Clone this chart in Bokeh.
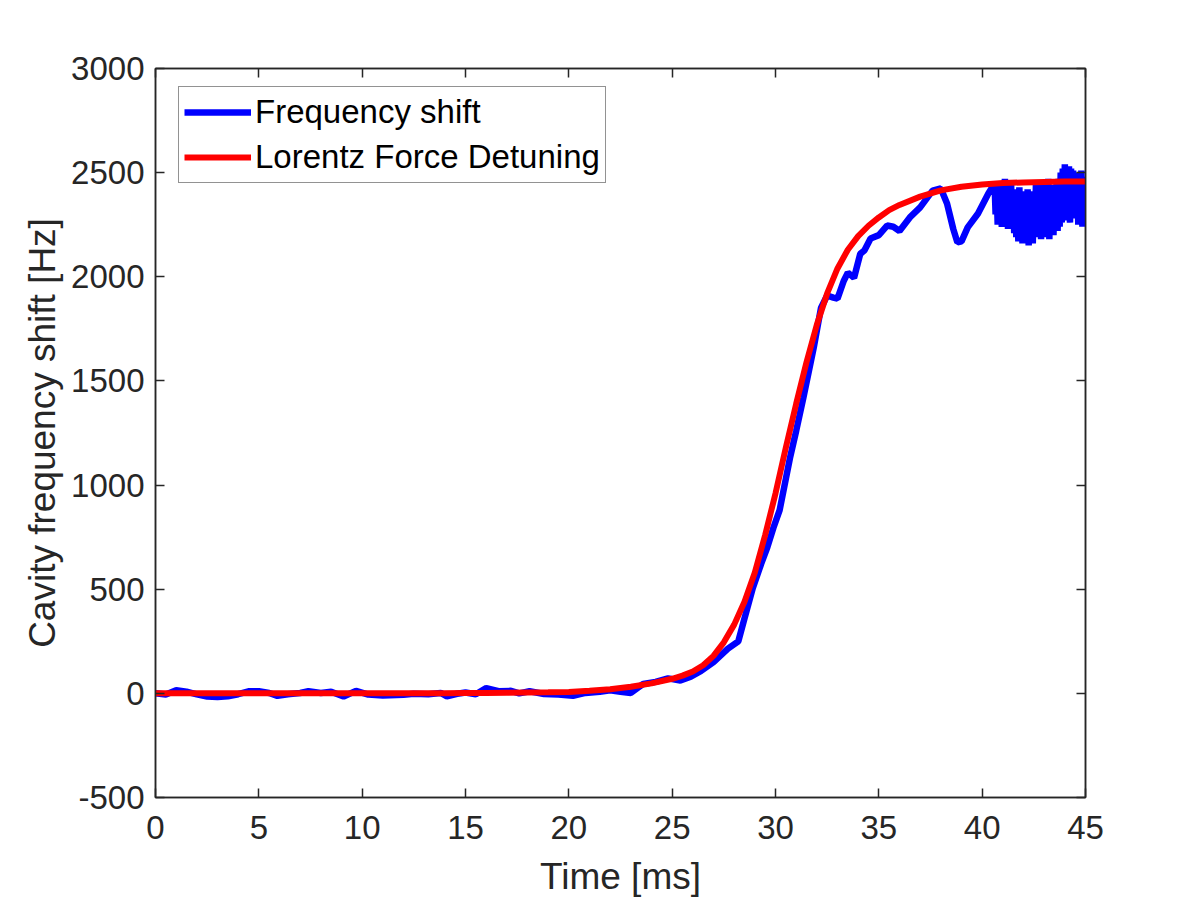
from bokeh.plotting import figure
from bokeh.models import Range1d, FixedTicker, LinearAxis, CustomJSTickFormatter, Legend, LegendItem
from bokeh.embed import file_html
from bokeh.resources import INLINE

# ---------------- data ----------------
blue_t = [0, 0.5, 1.0, 1.5, 2.0, 2.5, 3.0, 3.5, 4.0, 4.5, 5.0, 5.5, 5.9, 6.4, 7.0, 7.4, 8.0, 8.5,
          9.1, 9.7, 10.3, 11.0, 12.0, 12.5, 13.2, 13.8, 14.1, 14.6, 15.0, 15.5, 16.0, 16.6, 17.2,
          17.6, 18.1, 18.8, 19.5, 20.2, 20.8, 21.5, 22.0, 22.5, 23.0, 23.6, 24.2, 24.8, 25.4, 25.9,
          26.4, 27.0, 27.7, 28.2, 28.5, 28.9, 29.3, 29.6, 29.9, 30.2, 30.5, 30.7, 31.0, 31.35, 31.6,
          31.85, 32.2, 32.5, 32.8, 33.0, 33.3, 33.5, 33.8, 34.1, 34.3, 34.6, 35.0, 35.4, 35.7, 36.0,
          36.5, 37.0, 37.6, 38.0, 38.3, 38.6, 38.8, 39.0, 39.3, 39.8, 40.3, 40.6,
          40.65, 40.70, 40.75, 40.80, 40.85, 40.90, 40.95, 41.00, 41.05, 41.10, 41.15, 41.20,
          41.25, 41.30, 41.35, 41.40, 41.45, 41.50, 41.55, 41.60, 41.65, 41.70, 41.75, 41.80,
          41.85, 41.90, 41.95, 42.00, 42.05, 42.10, 42.15, 42.20, 42.25, 42.30, 42.35, 42.40,
          42.45, 42.50, 42.55, 42.60, 42.65, 42.70, 42.75, 42.80, 42.85, 42.90, 42.95, 43.00,
          43.05, 43.10, 43.15, 43.20, 43.25, 43.30, 43.35, 43.40, 43.45, 43.50, 43.55, 43.60,
          43.65, 43.70, 43.75, 43.80, 43.85, 43.90, 43.95, 44.00, 44.05, 44.10, 44.15, 44.20,
          44.25, 44.30, 44.35, 44.40, 44.45, 44.50, 44.55, 44.60, 44.65, 44.70, 44.75, 44.80,
          44.85, 44.90, 44.95, 45.00]
blue_v = [0, -5, 15, 8, -5, -15, -18, -14, -4, 10, 10, 2, -12, -4, 2, 10, 2, 8,
          -15, 12, -6, -10, -7, -2, -4, 2, -14, -2, 4, -4, 25, 10, 12,
          0, 10, -3, -5, -12, 2, 8, 15, 8, 2, 45, 55, 72, 62, 80,
          108, 150, 215, 250, 360, 505, 620, 700, 795, 880, 1030, 1130, 1260, 1420, 1540,
          1660, 1850, 1910, 1900, 1895, 1980, 2020, 1995, 2110, 2126, 2184, 2200, 2246, 2240, 2220,
          2285, 2333, 2414, 2424, 2352, 2230, 2165, 2170, 2237, 2304, 2400, 2448,
          2300, 2440, 2250, 2460, 2270, 2430, 2240, 2450, 2290, 2470, 2250, 2440,
          2230, 2420, 2260, 2450, 2230, 2400, 2210, 2420, 2190, 2400, 2170, 2430,
          2200, 2380, 2160, 2410, 2190, 2370, 2170, 2420, 2150, 2390, 2180, 2410,
          2160, 2380, 2200, 2440, 2190, 2450, 2210, 2430, 2180, 2460, 2200, 2420,
          2190, 2450, 2220, 2470, 2180, 2430, 2210, 2440, 2200, 2410, 2230, 2450,
          2220, 2470, 2240, 2500, 2260, 2520, 2280, 2540, 2270, 2510, 2290, 2530,
          2260, 2520, 2300, 2510, 2280, 2490, 2300, 2500, 2250, 2490, 2260, 2510,
          2240, 2480, 2270, 2400]

red_t = [0, 2, 4, 6, 8, 10, 12, 13, 14, 15, 16, 17, 18, 19, 20, 21, 22, 23, 24, 25, 25.5, 26,
         26.5, 27, 27.5, 28, 28.5, 29, 29.5, 30, 30.5, 31, 31.5, 32, 32.5, 33, 33.5, 34, 34.5,
         35, 35.5, 36, 37, 38, 39, 40, 41, 42, 43, 44, 45]
red_v = [0, 0, 0, 0, 0, 0, 0, 1, 1, 2, 2, 3, 4, 5, 7, 12, 20, 32, 48, 70, 85, 105,
         135, 180, 245, 330, 440, 580, 760, 960, 1180, 1390, 1590, 1770, 1920, 2040, 2130, 2195, 2245,
         2285, 2320, 2345, 2385, 2415, 2432, 2443, 2450, 2453, 2455, 2457, 2458]

x_ticks = [0, 5, 10, 15, 20, 25, 30, 35, 40, 45]
y_ticks = [-500, 0, 500, 1000, 1500, 2000, 2500, 3000]

series_names = ["Frequency shift", "Lorentz Force Detuning"]

# ---------------- figure ----------------
FONT = "Liberation Sans"
AX = "#262626"

p = figure(frame_width=930, frame_height=729,
           min_border_left=155, min_border_right=107, min_border_top=68, min_border_bottom=95,
           x_range=Range1d(0, 45), y_range=Range1d(-500, 3000),
           output_backend="svg", toolbar_location=None,
           background_fill_color="white", border_fill_color="white")
p.outline_line_color = AX
p.outline_line_width = 1.5
p.xgrid.visible = False
p.ygrid.visible = False

b = p.line(blue_t, blue_v, line_color="#0000FF", line_width=6.5)
r = p.line(red_t, red_v, line_color="#FF0000", line_width=6)

def style_axis(ax, ticks, show_labels):
    ax.ticker = FixedTicker(ticks=ticks)
    ax.axis_line_color = AX
    ax.axis_line_width = 1.5
    ax.major_tick_line_color = AX
    ax.major_tick_line_width = 1.5
    ax.major_tick_in = 9
    ax.major_tick_out = 0
    ax.minor_tick_line_color = None
    ax.major_label_text_font = FONT
    ax.major_label_text_font_size = "33px"
    ax.major_label_text_color = AX
    if show_labels:
        ax.formatter = CustomJSTickFormatter(code="return tick.toString()")
    else:
        ax.formatter = CustomJSTickFormatter(code="return ''")

xa = p.xaxis[0]
ya = p.yaxis[0]
style_axis(xa, x_ticks, True)
style_axis(ya, y_ticks, True)
xa.major_label_standoff = 18
ya.major_label_standoff = 11
xa.axis_label = "Time [ms]"
ya.axis_label = "Cavity frequency shift [Hz]"
for ax in (xa, ya):
    ax.axis_label_text_font = FONT
    ax.axis_label_text_font_size = "37px"
    ax.axis_label_text_font_style = "normal"
    ax.axis_label_text_color = AX
xa.axis_label_standoff = 14
ya.axis_label_standoff = 5

top_ax = LinearAxis()
right_ax = LinearAxis()
style_axis(top_ax, x_ticks, False)
style_axis(right_ax, y_ticks, False)
top_ax.major_label_standoff = 0
right_ax.major_label_standoff = 0
p.add_layout(top_ax, "above")
p.add_layout(right_ax, "right")

legend = Legend(items=[LegendItem(label=series_names[0], renderers=[b]),
                       LegendItem(label=series_names[1], renderers=[r])],
                location=(23, 614))
legend.label_text_font = FONT
legend.label_text_font_size = "33px"
legend.label_text_color = "black"
legend.glyph_width = 67
legend.glyph_height = 40
legend.label_height = 40
legend.label_standoff = 4
legend.padding = 5
legend.spacing = 5
legend.margin = 0
legend.border_line_color = AX
legend.border_line_width = 1.5
legend.background_fill_color = "white"
legend.background_fill_alpha = 1.0
p.add_layout(legend, "center")

open("out.html", "w").write(file_html(p, INLINE))
